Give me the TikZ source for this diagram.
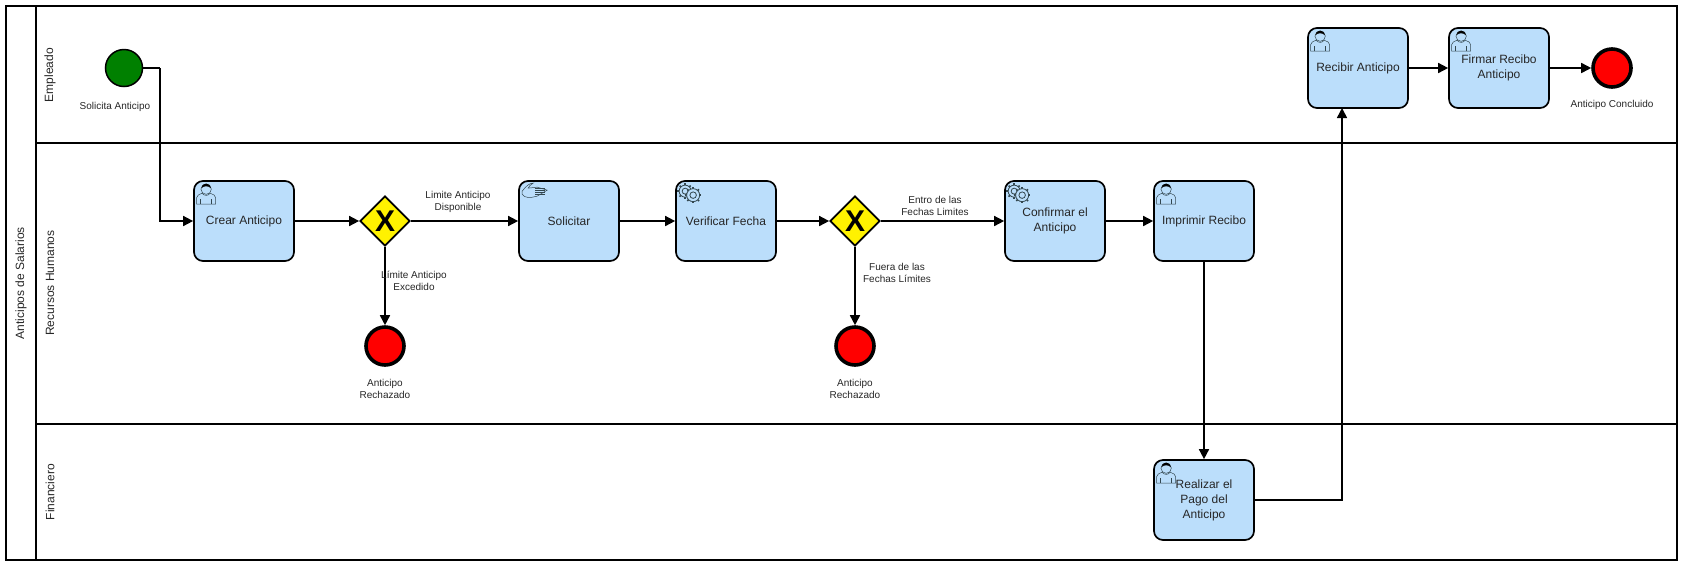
\documentclass[tikz,border=0pt]{standalone}
\usepackage{fontspec}
\setmainfont{Liberation Sans}
\usetikzlibrary{arrows.meta,shapes.geometric}

\definecolor{taskblue}{HTML}{BBDEFB}
\definecolor{startgreen}{HTML}{008000}
\definecolor{iconline}{HTML}{33474F}

\tikzset{
	task/.style={draw, rounded corners=9pt, line width=1.7pt, fill=taskblue,
		minimum width=100pt, minimum height=80pt, inner sep=0pt, align=center,
		text=black!85, font=\fontsize{12}{15}\selectfont},
	gateway/.style={diamond, draw, line width=1.7pt, fill=yellow, inner sep=0pt,
		minimum width=50pt, minimum height=50pt, font=\fontsize{30}{30}\selectfont\bfseries},
	startevent/.style={circle, draw, line width=1.5pt, fill=startgreen, minimum size=37pt, inner sep=0pt},
	endevent/.style={circle, draw, line width=3.6pt, fill=red, minimum size=38pt, inner sep=0pt},
	flow/.style={-{Triangle[length=10pt,width=10pt]}, line width=1.6pt},
	caption/.style={align=center, inner sep=0pt, text=black!85, font=\fontsize{10}{12.5}\selectfont},
	lanetitle/.style={rotate=90, inner sep=0pt, text=black!85, font=\fontsize{12}{14}\selectfont},
	icon/.style={draw=iconline, line width=0.5pt},
	usericon/.pic={
		\draw[icon] (3.5,24) -- (3.5,17.5) .. controls (3.5,15) and (6,14.5) .. (9,13)
			.. controls (11,16) and (15,16) .. (17,13) .. controls (20,14.5) and (22.5,15) .. (22.5,17.5)
			-- (22.5,24) -- cycle;
		\draw[icon] (7.5,24) -- (7.5,19) (18.5,24) -- (18.5,19);
		\draw[icon, fill=taskblue] (13,9) circle (5.2pt);
		\fill[black] (8.2,8) .. controls (8.5,2) and (17.5,2) .. (17.8,8) .. controls (15,5.5) and (11,5.5) .. (8.2,8);
	},
	handicon/.pic={
		\draw[icon] (4,11) .. controls (8,6) and (11,3) .. (15,3) .. controls (12,5) and (11,6) .. (10,8)
			-- (19,7) -- (29,10) -- (19,16);
		\draw[icon] (4,11) -- (4,14) .. controls (6,18) and (12,18) .. (19,16);
		\foreach \j in {8,10,12,14}
		{
			\draw[icon, line width=0.7pt] (17,\j) -- (27,\j);
		}
	},
	gearicon/.pic={
		\foreach \cx/\cy/\rad in {10/11/6,18/15/6.5}
		{
			\foreach \a in {0,45,...,315}
			{
				\draw[icon, line width=1.6pt] (\cx,\cy) ++(\a:\rad) -- ++(\a:1.8);
			}
			\draw[icon, line width=0.8pt, fill=taskblue] (\cx,\cy) circle (\rad pt);
			\draw[icon, line width=0.8pt] (\cx,\cy) circle (\rad*0.5 pt);
		}
	}
}

\begin{document}
\begin{tikzpicture}[x=1pt, y=-1pt]
\useasboundingbox (0,0) rectangle (1683,566);

% Pool and lanes
\draw[line width=1.6pt] (6,6) rectangle (1677,560);
\draw[line width=1.6pt] (36,6) -- (36,560);
\draw[line width=1.6pt] (36,143) -- (1677,143);
\draw[line width=1.6pt] (36,424) -- (1677,424);

\node[lanetitle] (Pool) at (21,283) {Anticipos de Salarios};
\node[lanetitle] (Lane-Empleado) at (50,75) {Empleado};
\node[lanetitle] (Lane-Recursos) at (50,283) {Recursos Humanos};
\node[lanetitle] (Lane-Financiero) at (50,492) {Financiero};

% Events
\node[startevent] (Start) at (124,68) {};
\node[endevent] (End-1) at (385,346) {};
\node[endevent] (End-2) at (855,346) {};
\node[endevent] (End-3) at (1612,68) {};

% Gateways
\node[gateway] (Gate-1) at (385,221) {X};
\node[gateway] (Gate-2) at (855,221) {X};

% Tasks
\foreach \name/\x/\y/\txt in {
	Crear/244/221/Crear Anticipo,
	Solicitar/569/221/Solicitar,
	Verificar/726/221/Verificar Fecha,
	Confirmar/1055/221/Confirmar el\\Anticipo,
	Imprimir/1204/221/Imprimir Recibo,
	Realizar/1204/500/Realizar el\\Pago del\\Anticipo,
	Recibir/1358/68/Recibir Anticipo,
	Firmar/1499/68/Firmar Recibo\\Anticipo}
{
	\node[task] (\name) at (\x,\y) {\txt};
}

% Task icons
\foreach \name in {Crear,Imprimir,Recibir,Firmar,Realizar}
{
	\pic at (\name.north west) {usericon};
}
\pic at (Solicitar.north west) {handicon};
\pic at (Verificar.north west) {gearicon};
\pic at (Confirmar.north west) {gearicon};

% Sequence flows
\coordinate (StartBend) at (160,68);
\draw[line width=1.6pt] (Start) -- (StartBend);
\draw[flow] (StartBend) |- (Crear);
\draw[flow] (Crear) -- (Gate-1);
\draw[flow] (Gate-1) -- (Solicitar);
\draw[flow] (Gate-1) -- (End-1);
\draw[flow] (Solicitar) -- (Verificar);
\draw[flow] (Verificar) -- (Gate-2);
\draw[flow] (Gate-2) -- (Confirmar);
\draw[flow] (Gate-2) -- (End-2);
\draw[flow] (Confirmar) -- (Imprimir);
\draw[flow] (Imprimir) -- (Realizar);
\coordinate (PayBend) at (1342,500);
\coordinate (RecibirIn) at (1342,108);
\draw[flow] (Realizar) -- (PayBend) -- (RecibirIn);
\draw[flow] (Recibir) -- (Firmar);
\draw[flow] (Firmar) -- (End-3);

% Captions
\node[caption] (Cap-Start) at (115,107) {Solicita Anticipo};
\node[caption] (Cap-End1) at (385,389) {Anticipo\\Rechazado};
\node[caption] (Cap-End2) at (855,389) {Anticipo\\Rechazado};
\node[caption] (Cap-End3) at (1612,105) {Anticipo Concluido};
\node[caption] (Cap-Gate1) at (458,202) {Limite Anticipo\\Disponible};
\node[caption] (Cap-Gate1b) at (414,281) {Límite Anticipo\\Excedido};
\node[caption] (Cap-Gate2) at (935,206) {Entro de las\\Fechas Limites};
\node[caption] (Cap-Gate2b) at (897,273) {Fuera de las\\Fechas Límites};

\end{tikzpicture}
\end{document}
